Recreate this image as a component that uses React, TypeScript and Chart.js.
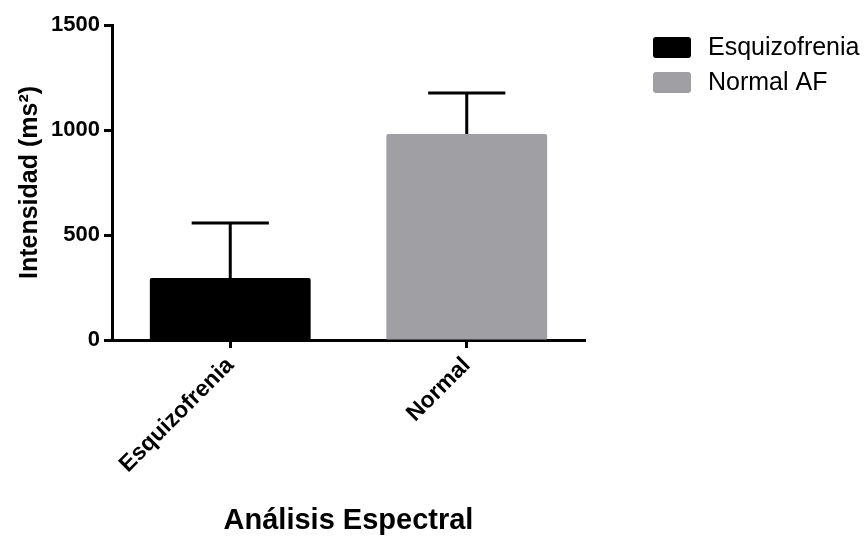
import { useEffect, useRef } from 'react';
import { Chart, registerables } from 'chart.js';

Chart.register(...registerables);

// Spectral analysis: mean intensity per group with upper SD bar
const categories = ['Esquizofrenia', 'Normal'];
const means = [295, 981];
const errorsUp = [262, 195];
const legendLabels = ['Esquizofrenia', 'Normal AF'];
const barColors = ['#000000', '#a09fa4'];
const yTicks = [0, 500, 1000, 1500];

const FONT = "'Liberation Sans', Arial, Helvetica, sans-serif";

// Upward-only error bars with a flat cap
const errorBarPlugin = {
  id: 'errorBars',
  afterDatasetsDraw(chart: any) {
    const { ctx } = chart;
    const yScale = chart.scales.y;
    const meta = chart.getDatasetMeta(0);
    ctx.save();
    ctx.strokeStyle = '#000';
    ctx.lineWidth = 3;
    ctx.lineCap = 'butt';
    meta.data.forEach((bar: any, i: number) => {
      const x = bar.x;
      const yTop = yScale.getPixelForValue(means[i] + errorsUp[i]);
      const yBar = yScale.getPixelForValue(means[i]);
      const capHalf = bar.width * 0.24;
      ctx.beginPath();
      ctx.moveTo(x, yBar);
      ctx.lineTo(x, yTop);
      ctx.moveTo(x - capHalf, yTop);
      ctx.lineTo(x + capHalf, yTop);
      ctx.stroke();
    });
    ctx.restore();
  },
};

// Legend drawn to the right of the plot
const sideLegendPlugin = {
  id: 'sideLegend',
  afterDraw(chart: any) {
    const { ctx } = chart;
    const boxX = chart.chartArea.right + 68;
    const boxW = 38;
    const boxH = 21;
    const rowGap = 35;
    const firstY = chart.chartArea.top + 12;
    ctx.save();
    ctx.font = `25px ${FONT}`;
    ctx.textBaseline = 'middle';
    ctx.textAlign = 'left';
    legendLabels.forEach((label, i) => {
      const y = firstY + i * rowGap;
      ctx.fillStyle = barColors[i];
      ctx.beginPath();
      ctx.roundRect(boxX, y, boxW, boxH, 3);
      ctx.fill();
      ctx.fillStyle = '#000';
      ctx.fillText(label, boxX + boxW + 17, y + boxH / 2 + 1);
    });
    ctx.restore();
  },
};

export default function App() {
  const canvasRef = useRef<HTMLCanvasElement | null>(null);

  useEffect(() => {
    if (!canvasRef.current) return;
    const chart = new Chart(canvasRef.current, {
      type: 'bar',
      data: {
        labels: categories,
        datasets: [
          {
            label: 'Intensidad',
            data: means,
            backgroundColor: barColors,
            borderWidth: 0,
            borderRadius: 2,
            borderSkipped: 'bottom',
            categoryPercentage: 1,
            barPercentage: 0.68,
          },
        ],
      },
      options: {
        animation: false,
        responsive: false,
        maintainAspectRatio: false,
        layout: {
          padding: { left: 12, right: 282, top: 25, bottom: 2 },
        },
        plugins: {
          legend: { display: false },
          tooltip: { enabled: false },
        },
        scales: {
          x: {
            type: 'category',
            offset: true,
            grid: {
              display: true,
              drawOnChartArea: false,
              drawTicks: true,
              offset: false,
              tickLength: 8,
              tickWidth: 3,
              color: '#000',
            },
            border: { display: true, width: 3, color: '#000' },
            ticks: {
              color: '#000',
              font: { family: FONT, size: 23, weight: 'bold' },
              minRotation: 45,
              maxRotation: 45,
              padding: 4,
            },
            title: {
              display: true,
              text: 'Análisis Espectral',
              color: '#000',
              font: { family: FONT, size: 29, weight: 'bold' },
              padding: { top: 4, bottom: 3 },
            },
            afterFit(scale: any) {
              scale.height = 543 - 340 - 2;
            },
          },
          y: {
            min: 0,
            max: 1500,
            grid: {
              display: true,
              drawOnChartArea: false,
              drawTicks: true,
              tickLength: 8,
              tickWidth: 3,
              color: '#000',
            },
            border: { display: true, width: 3, color: '#000' },
            ticks: {
              stepSize: 500,
              color: '#000',
              padding: 4,
              font: { family: FONT, size: 22, weight: 'bold' },
              callback: (v: any) => (yTicks.includes(Number(v)) ? String(v) : ''),
            },
            title: {
              display: true,
              text: 'Intensidad (ms²)',
              color: '#000',
              font: { family: FONT, size: 25, weight: 'bold' },
              padding: { top: 3, bottom: 4 },
            },
            afterFit(scale: any) {
              scale.width = 112 - 12;
            },
          },
        },
      },
      plugins: [errorBarPlugin, sideLegendPlugin],
    });
    return () => chart.destroy();
  }, []);

  return (
    <div style={{ position: 'absolute', left: 0, top: 0, width: 867, height: 543, background: '#fff' }}>
      <canvas ref={canvasRef} width={867} height={543} style={{ width: 867, height: 543 }} />
    </div>
  );
}
